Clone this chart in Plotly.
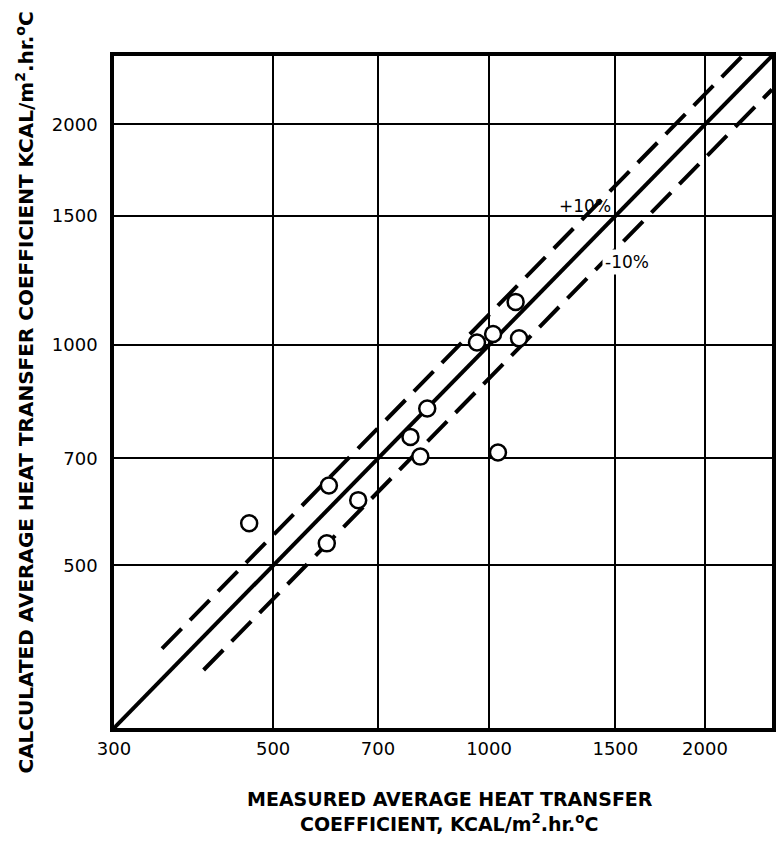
import numpy as np
import plotly.graph_objects as go

# Measured vs calculated average heat transfer coefficients (kcal/m2.hr.C)
measured = [463, 594, 598, 657, 777, 802, 820, 1029, 962, 1013, 1089, 1101]
calculated = [571, 536, 643, 614, 749, 704, 819, 713, 1008, 1035, 1145, 1021]

# Axis limits and tick labels
axis_min = 300
axis_max = 2480
x_ticks = [300, 500, 700, 1000, 1500, 2000]
y_ticks = [500, 700, 1000, 1500, 2000]

# +/-10 % deviation bands (start of each dashed line)
band_plus = 1.10
band_minus = 0.90
band_plus_start = 350
band_minus_start = 400

FONT = "DejaVu Sans"

fig = go.Figure()

# perfect agreement line
fig.add_trace(go.Scatter(
    x=[axis_min, axis_max], y=[axis_min, axis_max], mode="lines",
    line=dict(color="black", width=4), hoverinfo="skip", showlegend=False))

# +10 % line, ends where it meets the top of the frame
xp = np.array([band_plus_start, axis_max / band_plus])
fig.add_trace(go.Scatter(
    x=xp, y=xp * band_plus, mode="lines",
    line=dict(color="black", width=4, dash="28px,12px"),
    hoverinfo="skip", showlegend=False))

# -10 % line, ends at the right side of the frame
xm = np.array([band_minus_start, axis_max])
fig.add_trace(go.Scatter(
    x=xm, y=xm * band_minus, mode="lines",
    line=dict(color="black", width=4, dash="28px,12px"),
    hoverinfo="skip", showlegend=False))

# data points
fig.add_trace(go.Scatter(
    x=measured, y=calculated, mode="markers",
    marker=dict(symbol="circle", size=16, color="white",
                line=dict(color="black", width=2.5)),
    showlegend=False))

axis_common = dict(
    type="log",
    range=[np.log10(axis_min), np.log10(axis_max)],
    showgrid=True, gridcolor="black", gridwidth=2,
    showline=True, linecolor="black", linewidth=3.5, mirror=True,
    zeroline=False, ticks="outside", tickcolor="rgba(0,0,0,0)",
    tickfont=dict(family=FONT, size=18, color="black"),
)

fig.update_xaxes(**axis_common, tickvals=x_ticks, ticklen=2,
                 ticktext=[str(v) for v in x_ticks])
fig.update_yaxes(**axis_common, tickvals=y_ticks, ticklen=9,
                 ticktext=[str(v) for v in y_ticks])

L, R, T, B = 114, 6, 56, 115
W, H = 782, 843
pw, ph = W - L - R, H - T - B


def px_x(p):
    return (p - L) / pw


def px_y(p):
    return (H - B - p) / ph


annotations = [
    dict(text="+10%", x=np.log10(1361), y=np.log10(1547), xref="x", yref="y",
         showarrow=False, font=dict(family=FONT, size=17, color="black")),
    dict(text="-10%", x=np.log10(1556), y=np.log10(1297), xref="x", yref="y",
         showarrow=False, font=dict(family=FONT, size=17, color="black"),
         bgcolor="white", borderpad=2),
    dict(text="MEASURED AVERAGE HEAT TRANSFER", x=px_x(452), y=px_y(799),
         xref="paper", yref="paper", xanchor="center", yanchor="middle",
         showarrow=False, font=dict(family=FONT, size=19, color="black", weight="bold")),
    dict(text="COEFFICIENT, KCAL/m<sup>2</sup>.hr.<sup>o</sup>C", x=px_x(451), y=px_y(823),
         xref="paper", yref="paper", xanchor="center", yanchor="middle",
         showarrow=False, font=dict(family=FONT, size=19, color="black", weight="bold")),
    dict(text="CALCULATED AVERAGE HEAT TRANSFER COEFFICIENT KCAL/m<sup>2</sup>.hr.<sup>o</sup>C",
         x=px_x(24), y=px_y(393), xref="paper", yref="paper",
         xanchor="center", yanchor="middle", textangle=-90,
         showarrow=False, font=dict(family=FONT, size=20, color="black", weight="bold")),
]

fig.update_layout(
    width=W, height=H,
    margin=dict(l=L, r=R, t=T, b=B),
    paper_bgcolor="white", plot_bgcolor="white",
    annotations=annotations,
    font=dict(family=FONT, color="black"),
)

fig.write_html("out.html")
